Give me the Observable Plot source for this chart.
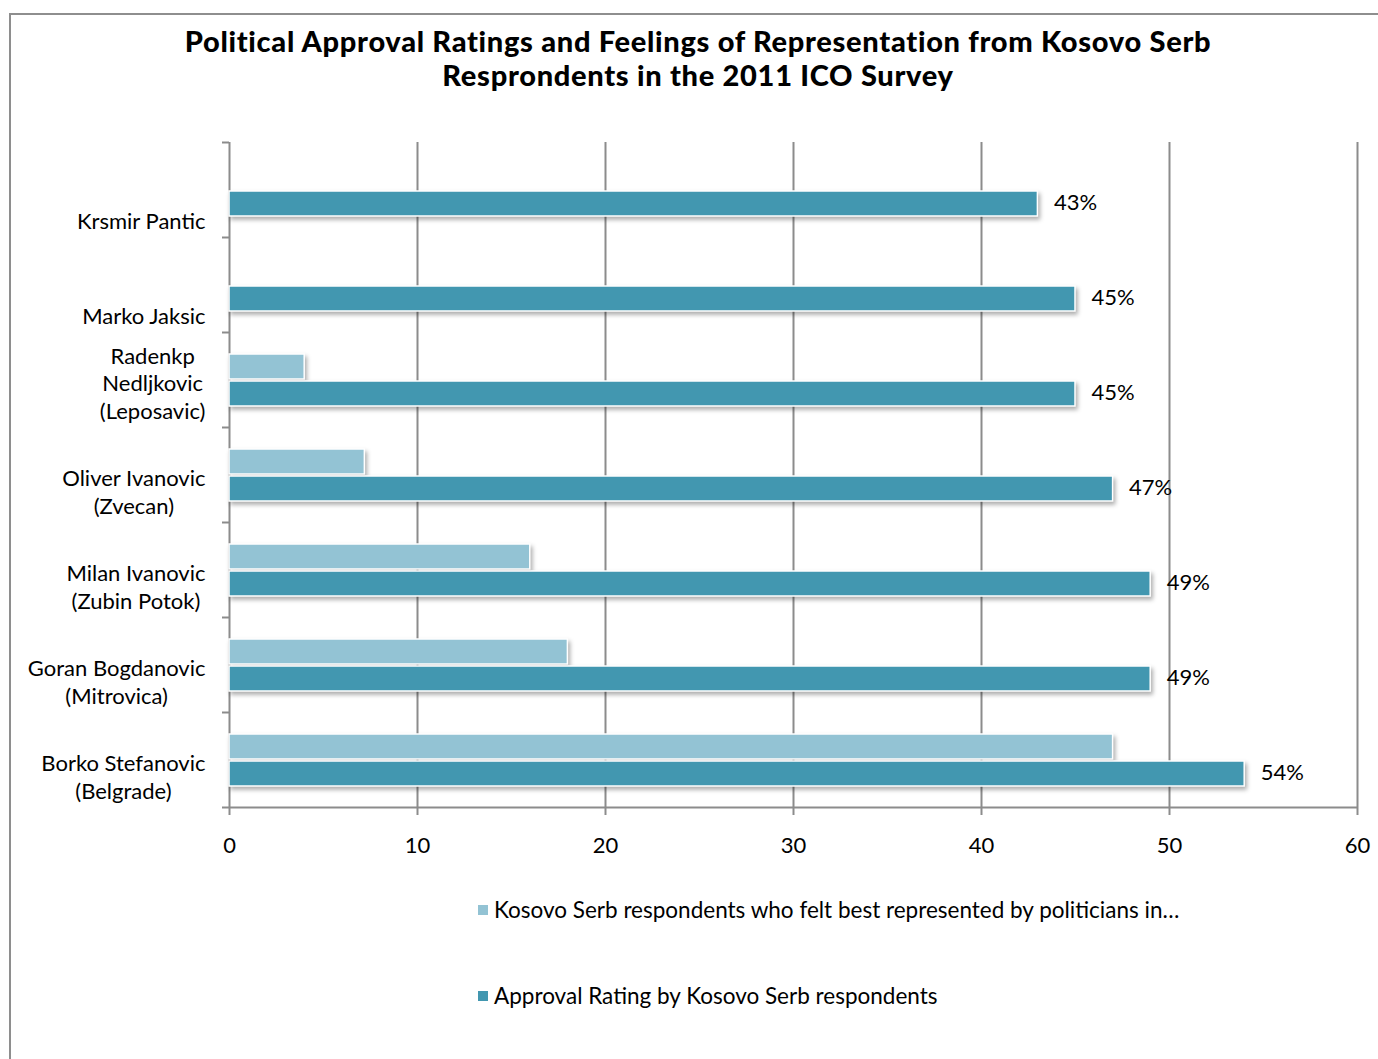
<!DOCTYPE html>
<html>
<head>
<meta charset="utf-8">
<script src="https://cdn.jsdelivr.net/npm/d3@7"></script>
<script src="https://cdn.jsdelivr.net/npm/@observablehq/plot@0.6"></script>
<style>
  html, body { margin: 0; padding: 0; background: #fff; overflow: hidden; }
  body { width: 1378px; height: 1059px; position: relative; font-family: Lato, "Open Sans", sans-serif; }
  #frame { position: absolute; left: 9px; top: 13px; width: 1400px; height: 1100px; border-left: 2.5px solid #8e8e8e; border-top: 2.5px solid #8e8e8e; }
  #title { position: absolute; left: 10px; width: 1376px; top: 24px; text-align: center; font-weight: 900; font-size: 29px; letter-spacing: 0.7px; line-height: 34px; color: #000; }
  #chart { position: absolute; left: 0; top: 110px; }
  #legend { position: absolute; left: 478px; top: 0; font-size: 22.5px; color: #000; }
  .item { position: absolute; left: 0; white-space: nowrap; display: flex; align-items: center; }
  .sw { width: 10px; height: 10px; margin-right: 6px; display: inline-block; }
  g[aria-label="bar"] rect { filter: drop-shadow(2px 3px 2px rgba(0,0,0,0.32)); }
</style>
</head>
<body>
<div id="frame"></div>
<div id="title">Political Approval Ratings and Feelings of Representation from Kosovo Serb<br>Resprondents in the 2011 ICO Survey</div>
<div id="chart"></div>
<div id="legend"></div>
<script>
const names = [
  "Krsmir Pantic",
  "Marko Jaksic",
  "Radenkp\nNedljkovic\n(Leposavic)",
  "Oliver Ivanovic\n(Zvecan)",
  "Milan Ivanovic\n(Zubin Potok)",
  "Goran Bogdanovic\n(Mitrovica)",
  "Borko Stefanovic\n(Belgrade)"
];
const represented = [null, null, 4, 7.2, 16, 18, 47];
const approval = [43, 45, 45, 47, 49, 49, 54];
const xTicks = [0, 10, 20, 30, 40, 50, 60];
const seriesNames = [
  "Kosovo Serb respondents who felt best represented by politicians in…",
  "Approval Rating by Kosovo Serb respondents"
];
const colors = ["#93c3d4", "#4297b0"];

const repData = names.map((name, i) => ({name, value: represented[i]})).filter(d => d.value != null);
const appData = names.map((name, i) => ({name, value: approval[i]}));

const W = 1378, H = 757, mt = 32, mb = 60, ml = 229, mr = 21;
const band = (H - mt - mb) / names.length;
const grid = "#8c8c8c";

const plot = Plot.plot({
  width: W, height: H,
  marginTop: mt, marginBottom: mb, marginLeft: ml, marginRight: mr,
  style: {fontFamily: "Lato, 'Open Sans', sans-serif", fontSize: "22px", color: "#000", background: "transparent", overflow: "visible"},
  x: {domain: [0, 60], label: null},
  y: {domain: names, padding: 0, axis: null, label: null},
  marks: [
    Plot.ruleX(xTicks, {x: d => d, stroke: grid, strokeWidth: 2}),
    Plot.axisX({ticks: xTicks, tickSize: 8, tickPadding: 22, stroke: grid, strokeWidth: 2, fill: "#000", fontSize: 22, label: null, tickFormat: d => String(d)}),
    Plot.ruleY(names, {y: d => d, x1: 0, x2: 0, insetLeft: -7, dy: -band / 2, stroke: grid, strokeWidth: 2}),
    Plot.ruleY([names[names.length - 1]], {y: d => d, x1: 0, x2: 60, insetLeft: -7, dy: band / 2, stroke: grid, strokeWidth: 2}),
    Plot.barX(repData, {x: "value", y: "name", fill: colors[0], stroke: "#fff", strokeWidth: 1.5, insetTop: 22, insetBottom: band - 47}),
    Plot.barX(appData, {x: "value", y: "name", fill: colors[1], stroke: "#fff", strokeWidth: 1.5, insetTop: 49, insetBottom: band - 74}),
    Plot.text(appData, {x: "value", y: "name", text: d => `${d.value}%`, textAnchor: "start", dx: 16, dy: 60.5 - band / 2, fontSize: 22, fill: "#000"}),
    Plot.text(names, {y: d => d, text: d => d, frameAnchor: "left", dx: -24, dy: band / 2 - 9, lineAnchor: "bottom", textAnchor: "end", lineHeight: 1.25, fontSize: 22, fill: "#000"})
  ]
});
document.getElementById("chart").appendChild(plot);

// center multi-line category labels on their own block, keeping the right edge
const textGroups = plot.querySelectorAll('g[aria-label="text"]');
const labelGroup = textGroups[textGroups.length - 1];
labelGroup.querySelectorAll("text").forEach(t => {
  const w = t.getBBox().width;
  t.setAttribute("text-anchor", "middle");
  const tr = t.getAttribute("transform") || "";
  t.setAttribute("transform", tr + ` translate(${-w / 2},0)`);
});

const legend = document.getElementById("legend");
const legendTops = [896, 982];
seriesNames.forEach((s, i) => {
  const it = document.createElement("div");
  it.className = "item";
  it.style.top = legendTops[i] + "px";
  it.innerHTML = `<span class="sw" style="background:${colors[i]}"></span><span>${s}</span>`;
  legend.appendChild(it);
});
</script>
</body>
</html>
